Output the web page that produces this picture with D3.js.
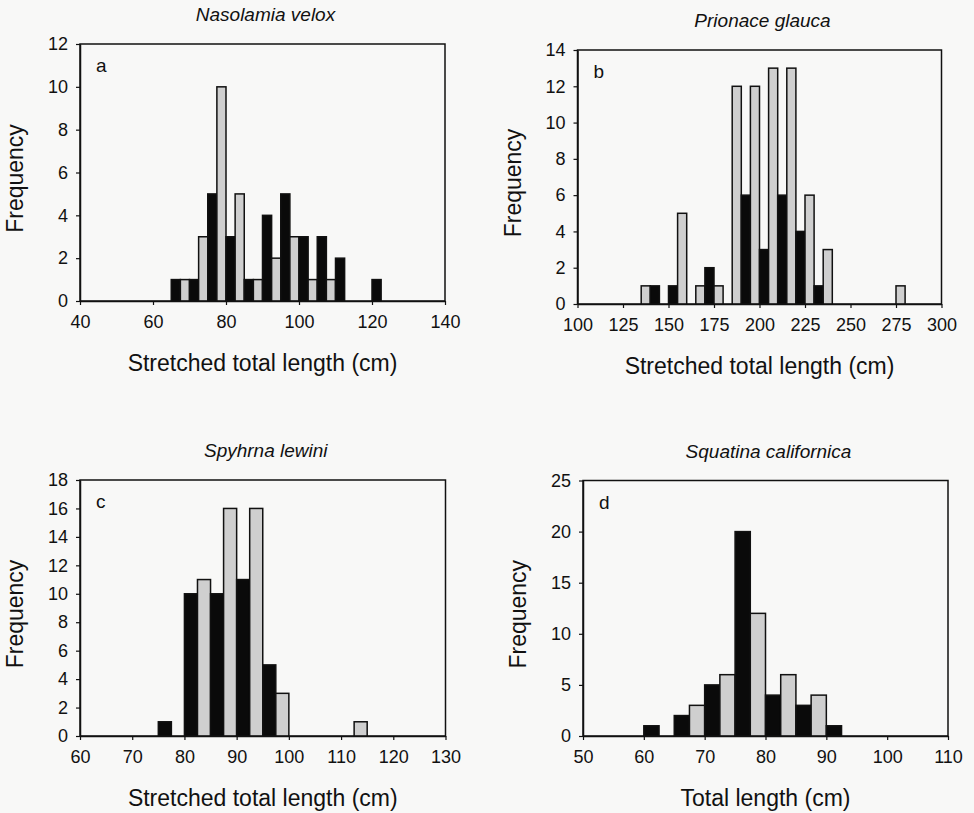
<!DOCTYPE html>
<html>
<head>
<meta charset="utf-8">
<script src="https://cdn.jsdelivr.net/npm/d3@7"></script>
<style>
  body { margin: 0; background: #f8f8f7; }
  svg { display: block; font-family: "Liberation Sans", Arial, sans-serif; }
</style>
</head>
<body>
<svg id="chart"></svg>
<script>
// panel titles and letters
const titles = ["Nasolamia velox", "Prionace glauca", "Spyhrna lewini", "Squatina californica"];
const letters = ["a", "b", "c", "d"];
const xLabels = ["Stretched total length (cm)", "Stretched total length (cm)",
  "Stretched total length (cm)", "Total length (cm)"];

// bin starts (cm) and counts, black = left half of bin, grey = right half
const binsA = [65, 70, 75, 80, 85, 90, 95, 100, 105, 110, 115, 120];
const blackA = [1, 1, 5, 3, 1, 4, 5, 3, 3, 2, 0, 1];
const greyA = [1, 3, 10, 5, 1, 2, 3, 1, 1, 0, 0, 0];

const binsB = [130, 140, 150, 160, 170, 180, 190, 200, 210, 220, 230, 240, 250, 260, 270];
const blackB = [0, 1, 1, 0, 2, 0, 6, 3, 6, 4, 1, 0, 0, 0, 0];
const greyB = [1, 0, 5, 1, 1, 12, 12, 13, 13, 6, 3, 0, 0, 0, 1];

const binsC = [75, 80, 85, 90, 95, 100, 105, 110];
const blackC = [1, 10, 10, 11, 5, 0, 0, 0];
const greyC = [0, 11, 16, 16, 3, 0, 0, 1];

const binsD = [60, 65, 70, 75, 80, 85, 90];
const blackD = [1, 2, 5, 20, 4, 3, 1];
const greyD = [0, 3, 6, 12, 6, 4, 0];

// axis ranges and tick steps
const xDomains = [[40, 140], [100, 300], [60, 130], [50, 110]];
const xSteps = [20, 25, 10, 10];
const yDomains = [[0, 12], [0, 14], [0, 18], [0, 25]];
const ySteps = [2, 2, 2, 5];
const binWidths = [5, 10, 5, 5];

const panels = [
  { bins: binsA, black: blackA, grey: greyA, box: { left: 80, top: 44, right: 445, bottom: 301 } },
  { bins: binsB, black: blackB, grey: greyB, box: { left: 577.5, top: 50, right: 941.5, bottom: 304 } },
  { bins: binsC, black: blackC, grey: greyC, box: { left: 80, top: 480, right: 445.5, bottom: 736 } },
  { bins: binsD, black: blackD, grey: greyD, box: { left: 583, top: 480.5, right: 948, bottom: 736 } },
];

const svg = d3.select("#chart")
  .attr("width", 974)
  .attr("height", 813);

panels.forEach((p, i) => {
  const b = p.box;
  const x = d3.scaleLinear().domain(xDomains[i]).range([b.left, b.right]);
  const y = d3.scaleLinear().domain(yDomains[i]).range([b.bottom, b.top]);
  const w = binWidths[i];
  const g = svg.append("g");

  // frame
  g.append("rect")
    .attr("x", b.left)
    .attr("y", b.top)
    .attr("width", b.right - b.left)
    .attr("height", b.bottom - b.top)
    .attr("fill", "none")
    .attr("stroke", "#111")
    .attr("stroke-width", 1.5);

  const bars = [];
  p.bins.forEach((start, k) => {
    if (p.black[k] > 0) bars.push({ x0: start, x1: start + w / 2, v: p.black[k], fill: "#0a0a0a" });
    if (p.grey[k] > 0) bars.push({ x0: start + w / 2, x1: start + w, v: p.grey[k], fill: "#cfcfcf" });
  });

  g.selectAll(".bar")
    .data(bars)
    .enter()
    .append("rect")
    .attr("class", "bar")
    .attr("x", (d) => x(d.x0))
    .attr("y", (d) => y(d.v))
    .attr("width", (d) => x(d.x1) - x(d.x0))
    .attr("height", (d) => y(0) - y(d.v))
    .attr("fill", (d) => d.fill)
    .attr("stroke", "#111")
    .attr("stroke-width", 1.5);

  const xTicks = d3.range(xDomains[i][0], xDomains[i][1] + 1, xSteps[i]);
  const yTicks = d3.range(yDomains[i][0], yDomains[i][1] + 1, ySteps[i]);

  const xAxis = g.append("g")
    .attr("transform", `translate(0, ${b.bottom})`)
    .call(d3.axisBottom(x).tickValues(xTicks).tickSize(4).tickSizeOuter(0).tickPadding(10));
  const yAxis = g.append("g")
    .attr("transform", `translate(${b.left}, 0)`)
    .call(d3.axisLeft(y).tickValues(yTicks).tickSize(4).tickSizeOuter(0).tickPadding(8));

  [xAxis, yAxis].forEach((ax) => {
    ax.select(".domain").attr("stroke", "#111").attr("stroke-width", 1.5);
    ax.selectAll(".tick line").attr("stroke", "#111").attr("stroke-width", 1.2);
    ax.selectAll(".tick text")
      .attr("fill", "#111")
      .style("font-size", "18px")
      .style("font-family", "'Liberation Sans', Arial, sans-serif");
  });

  const cx = (b.left + b.right) / 2;

  g.append("text")
    .attr("x", cx + 3)
    .attr("y", b.top - 23)
    .attr("text-anchor", "middle")
    .style("font-size", "19px")
    .style("font-style", "italic")
    .attr("fill", "#111")
    .text(titles[i]);

  g.append("text")
    .attr("x", b.left + 16)
    .attr("y", b.top + 28)
    .style("font-size", "19px")
    .attr("fill", "#111")
    .text(letters[i]);

  g.append("text")
    .attr("x", cx)
    .attr("y", b.bottom + 70)
    .attr("text-anchor", "middle")
    .style("font-size", "23px")
    .attr("fill", "#111")
    .text(xLabels[i]);

  g.append("text")
    .attr("transform", `translate(${b.left - 57}, ${(b.top + b.bottom) / 2 + 6}) rotate(-90)`)
    .attr("text-anchor", "middle")
    .style("font-size", "23px")
    .attr("fill", "#111")
    .text("Frequency");
});
</script>
</body>
</html>
